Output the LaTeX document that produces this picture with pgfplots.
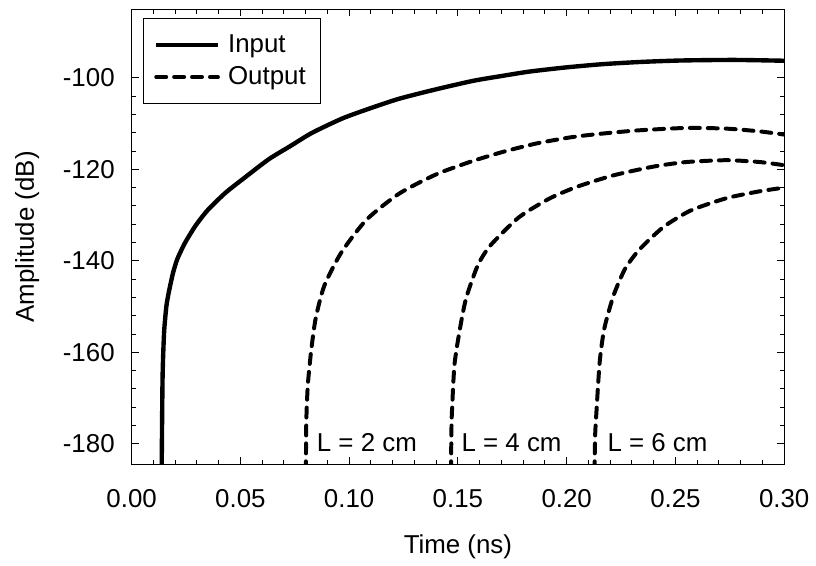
\documentclass[border=0pt]{standalone}
\usepackage{fontspec}
\setmainfont{Liberation Sans}
\usepackage{pgfplots}
\pgfplotsset{compat=1.18}

\begin{document}
\begin{tikzpicture}
\tikzset{lblfont/.style={font=\fontsize{13}{15}\selectfont}}
\begin{axis}[
    name=ax, scale only axis,
    width=327.9pt, height=228.7pt,
    xmin=0, xmax=0.30, ymin=-184.5, ymax=-85,
    xtick={0,0.05,...,0.31}, xticklabels={0.00,0.05,0.10,0.15,0.20,0.25,0.30},
    ytick={-180,-160,-140,-120,-100}, yticklabels={-180,-160,-140,-120,-100},
    minor x tick num=4, minor y tick num=4,
    tick align=inside, xtick pos=both, ytick pos=both,
    major tick length=3.5pt, minor tick length=2.3pt,
    every tick/.style={black, line width=0.5pt},
    axis line style={line width=0.6pt},
    ticklabel style={lblfont},
    xticklabel style={yshift=-9pt},
    yticklabel style={xshift=-5pt},
    xlabel={Time (ns)}, ylabel={Amplitude (dB)},
    label style={lblfont},
    xlabel style={at={(axis description cs:0.5,-0.180)}, anchor=center},
    ylabel style={at={(axis description cs:-0.160,0.5)}, anchor=center},
    legend style={at={(0.0168,0.980)}, anchor=north west, draw=black,
      line width=0.5pt, lblfont, inner xsep=5.5pt, inner ysep=6pt,
      row sep=1.5pt, cells={anchor=west}},
    legend image code/.code={\draw[#1] (0pt,0pt) -- (31pt,0pt); \path (33pt,0pt);},
    clip=true,
  ]
  \addplot[black, line width=2.2pt, smooth, tension=0.4] coordinates {
    (0.0138,-186) (0.0140,-175) (0.0142,-166) (0.0145,-160.5) (0.0150,-155.0)
    (0.0160,-149.8) (0.0172,-146.6) (0.0190,-142.7) (0.0210,-139.6) (0.0245,-136.1)
    (0.0294,-132.3) (0.0350,-128.9) (0.0432,-125.1) (0.0520,-121.8) (0.0630,-117.8)
    (0.0730,-114.9) (0.0830,-112.0) (0.0970,-108.85) (0.1100,-106.6) (0.1230,-104.56)
    (0.1400,-102.5) (0.1570,-100.65) (0.1700,-99.6) (0.1830,-98.62) (0.2000,-97.7)
    (0.2170,-96.99) (0.2350,-96.5) (0.2530,-96.2) (0.2770,-96.08) (0.3000,-96.26) };
  \addlegendentry{Input}
  \addplot[black, line width=2pt, line cap=round, dash pattern=on 5pt off 4pt, smooth, tension=0.4] coordinates {
    (0.0801,-186) (0.0803,-175) (0.0810,-167.1) (0.0825,-159.8) (0.0846,-152.6)
    (0.0886,-145.4) (0.0965,-138.1) (0.1080,-131.0) (0.1230,-125.3) (0.1400,-121.1)
    (0.1560,-118.3) (0.1713,-116.1) (0.1865,-114.3) (0.2018,-113.0) (0.2140,-112.3)
    (0.2323,-111.5) (0.2550,-110.95) (0.2735,-111.1) (0.2887,-111.7) (0.3000,-112.4) };
  \addlegendentry{Output}
  \addplot[black, line width=2pt, line cap=round, dash pattern=on 5pt off 4pt, smooth, tension=0.4, forget plot] coordinates {
    (0.1468,-186) (0.1470,-178) (0.1472,-173.6) (0.1484,-162.8) (0.1507,-155.5)
    (0.1537,-148.3) (0.1591,-141.0) (0.1650,-136.6) (0.1780,-130.5) (0.1920,-126.4)
    (0.2048,-123.8) (0.2216,-121.3) (0.2399,-119.4) (0.2550,-118.4) (0.2735,-118.0)
    (0.2887,-118.4) (0.3000,-119.1) };
  \addplot[black, line width=2pt, line cap=round, dash pattern=on 5pt off 4pt, smooth, tension=0.4, forget plot] coordinates {
    (0.2128,-186) (0.2131,-178) (0.2137,-172.9) (0.2152,-162.0) (0.2173,-154.8)
    (0.2216,-147.5) (0.2269,-141.7) (0.2335,-137.5) (0.2445,-132.6) (0.2570,-129.0)
    (0.2735,-126.3) (0.2887,-124.8) (0.3000,-124.0) };
  \node[lblfont, anchor=west, inner sep=0pt] at (axis cs:0.0850,-179.8) {L = 2 cm};
  \node[lblfont, anchor=west, inner sep=0pt] at (axis cs:0.1515,-179.8) {L = 4 cm};
  \node[lblfont, anchor=west, inner sep=0pt] at (axis cs:0.2186,-179.8) {L = 6 cm};
\end{axis}
\path[use as bounding box] ([shift={(-66.15pt,-50.15pt)}]ax.south west)
  rectangle ([shift={(14pt,4.65pt)}]ax.north east);
\end{tikzpicture}
\end{document}
